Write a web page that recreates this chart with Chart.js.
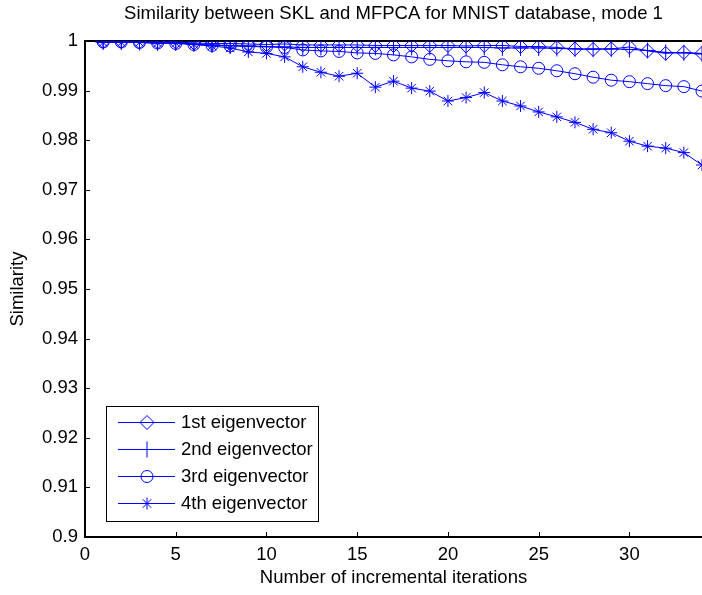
<!DOCTYPE html>
<html>
<head>
<meta charset="utf-8">
<script src="https://cdn.jsdelivr.net/npm/chart.js@4.4.0/dist/chart.umd.min.js"></script>
<style>
  html, body { margin: 0; padding: 0; background: #fff; }
</style>
</head>
<body>
<canvas id="myChart" width="702" height="595"></canvas>
<script>
// iteration index (x axis)
const iterations = [1, 2, 3, 4, 5, 6, 7, 8, 9, 10, 11, 12, 13, 14, 15, 16, 17,
  18, 19, 20, 21, 22, 23, 24, 25, 26, 27, 28, 29, 30, 31, 32, 33, 34];

// similarity values
const eig1 = [0.9999, 0.9999, 0.9998, 0.9998, 0.9998, 0.9996, 0.9995, 0.9995, 0.9994, 0.9993,
  0.9994, 0.9992, 0.9992, 0.9992, 0.9992, 0.9991, 0.9991, 0.9991, 0.9991, 0.9991,
  0.9990, 0.9991, 0.9991, 0.9989, 0.9989, 0.9987, 0.9984, 0.9983, 0.9984, 0.9988,
  0.9980, 0.9975, 0.9977, 0.9975];
const eig2 = [0.9998, 0.9998, 0.9997, 0.9996, 0.9996, 0.9994, 0.9992, 0.9991, 0.9990, 0.9989,
  0.9988, 0.9987, 0.9987, 0.9987, 0.9987, 0.9987, 0.9987, 0.9987, 0.9987, 0.9987,
  0.9987, 0.9987, 0.9986, 0.9986, 0.9986, 0.9985, 0.9984, 0.9984, 0.9984, 0.9983,
  0.9981, 0.9977, 0.9976, 0.9974];
const eig3 = [0.9998, 0.9998, 0.9997, 0.9996, 0.9995, 0.9993, 0.9991, 0.9990, 0.9989, 0.9988,
  0.9987, 0.9982, 0.9980, 0.9979, 0.9976, 0.9975, 0.9972, 0.9968, 0.9963, 0.9960,
  0.9958, 0.9957, 0.9952, 0.9948, 0.9945, 0.9940, 0.9934, 0.9927, 0.9921, 0.9918,
  0.9914, 0.9910, 0.9908, 0.9899];
const eig4 = [0.9997, 0.9997, 0.9997, 0.9996, 0.9996, 0.9993, 0.9990, 0.9986, 0.9978, 0.9975,
  0.9968, 0.9948, 0.9937, 0.9929, 0.9935, 0.9907, 0.9919, 0.9905, 0.9899, 0.9879,
  0.9886, 0.9896, 0.9879, 0.9869, 0.9857, 0.9847, 0.9836, 0.9822, 0.9815, 0.9798,
  0.9788, 0.9784, 0.9775, 0.9750];

const seriesNames = ['1st eigenvector', '2nd eigenvector', '3rd eigenvector', '4th eigenvector'];
const yTicks = [0.9, 0.91, 0.92, 0.93, 0.94, 0.95, 0.96, 0.97, 0.98, 0.99, 1];

const blue = 'rgb(0, 0, 255)';
const fontFamily = '"Liberation Sans", Arial, sans-serif';
const fontSize = 18.5;
const markers = [
  { style: 'rectRot', radius: 7 },
  { style: 'cross', radius: 8 },
  { style: 'circle', radius: 6 },
  { style: 'star', radius: 6 }
];

Chart.defaults.font.family = fontFamily;
Chart.defaults.font.size = fontSize;
Chart.defaults.color = '#000';

const toPoints = vals => vals.map((v, i) => ({ x: iterations[i], y: v }));

const datasets = [eig1, eig2, eig3, eig4].map((vals, i) => ({
  label: seriesNames[i],
  data: toPoints(vals),
  borderColor: blue,
  borderWidth: 1,
  backgroundColor: 'rgba(0,0,0,0)',
  pointStyle: markers[i].style,
  pointRadius: markers[i].radius,
  pointBorderColor: blue,
  pointBackgroundColor: 'rgba(0,0,0,0)',
  pointBorderWidth: 1,
  tension: 0,
  fill: false
}));

// inward tick marks, like matlab axes
const inwardTicks = {
  id: 'inwardTicks',
  afterDatasetsDraw(chart) {
    const { ctx, chartArea: a, scales } = chart;
    ctx.save();
    ctx.strokeStyle = '#000';
    ctx.lineWidth = 1;
    scales.x.ticks.forEach(t => {
      const px = Math.round(scales.x.getPixelForValue(t.value)) + 0.5;
      ctx.beginPath();
      ctx.moveTo(px, a.bottom);
      ctx.lineTo(px, a.bottom - 5);
      ctx.stroke();
    });
    scales.y.ticks.forEach(t => {
      const py = Math.round(scales.y.getPixelForValue(t.value)) + 0.5;
      ctx.beginPath();
      ctx.moveTo(a.left, py);
      ctx.lineTo(a.left + 5, py);
      ctx.stroke();
    });
    ctx.restore();
  }
};

// legend box in the lower left of the plot
const boxLegend = {
  id: 'boxLegend',
  afterDraw(chart) {
    const { ctx, chartArea: a } = chart;
    const left = a.left + 21, top = a.bottom - 131, w = 212, h = 115;
    ctx.save();
    ctx.fillStyle = '#fff';
    ctx.fillRect(left, top, w, h);
    ctx.strokeStyle = '#000';
    ctx.lineWidth = 1;
    ctx.strokeRect(left + 0.5, top + 0.5, w, h);
    chart.data.datasets.forEach((ds, i) => {
      const y = Math.round(top + 16 + i * 26.9) + 0.5;
      ctx.strokeStyle = blue;
      ctx.lineWidth = 1;
      ctx.beginPath();
      ctx.moveTo(left + 12, y);
      ctx.lineTo(left + 69, y);
      ctx.stroke();
      ctx.fillStyle = 'rgba(0,0,0,0)';
      Chart.helpers.drawPoint(ctx, {
        pointStyle: ds.pointStyle, radius: ds.pointRadius, rotation: 0, borderWidth: 1
      }, left + 41, y);
      ctx.fillStyle = '#000';
      ctx.font = fontSize + 'px ' + fontFamily;
      ctx.textAlign = 'left';
      ctx.textBaseline = 'middle';
      ctx.fillText(ds.label, left + 75, y);
    });
    ctx.restore();
  }
};

const ctx = document.getElementById('myChart').getContext('2d');

const myChart = new Chart(ctx, {
  type: 'line',
  data: { datasets: datasets },
  options: {
    responsive: false,
    animation: false,
    devicePixelRatio: 1,
    layout: { padding: 0, autoPadding: false },
    plugins: {
      legend: { display: false },
      tooltip: { enabled: false },
      title: { display: false }
    },
    scales: {
      x: {
        type: 'linear',
        position: 'bottom',
        min: 0,
        max: 34,
        ticks: { stepSize: 5, includeBounds: false, padding: 7, maxRotation: 0 },
        grid: { display: false, drawTicks: false },
        border: { display: true, color: '#000', width: 2 },
        title: {
          display: true,
          text: 'Number of incremental iterations',
          padding: { top: 0, bottom: 6 }
        },
        afterFit: s => { s.height = 58; }
      },
      x2: {
        type: 'linear',
        position: 'top',
        min: 0,
        max: 34,
        ticks: { display: false },
        grid: { display: false, drawTicks: false },
        border: { display: true, color: '#000', width: 2 },
        title: {
          display: true,
          text: 'Similarity between SKL and MFPCA for MNIST database, mode 1',
          padding: { top: 3, bottom: 0 }
        },
        afterFit: s => { s.height = 41; }
      },
      y: {
        type: 'linear',
        position: 'left',
        min: yTicks[0],
        max: yTicks[yTicks.length - 1],
        afterBuildTicks: s => { s.ticks = yTicks.map(v => ({ value: v })); },
        ticks: {
          padding: 7,
          callback: v => String(parseFloat(Number(v).toFixed(2)))
        },
        grid: { display: false, drawTicks: false },
        border: { display: true, color: '#000', width: 2 },
        title: {
          display: true,
          text: 'Similarity',
          padding: { top: 7, bottom: 0 }
        },
        afterFit: s => { s.width = 85; }
      }
    }
  },
  plugins: [inwardTicks, boxLegend]
});
</script>
</body>
</html>
